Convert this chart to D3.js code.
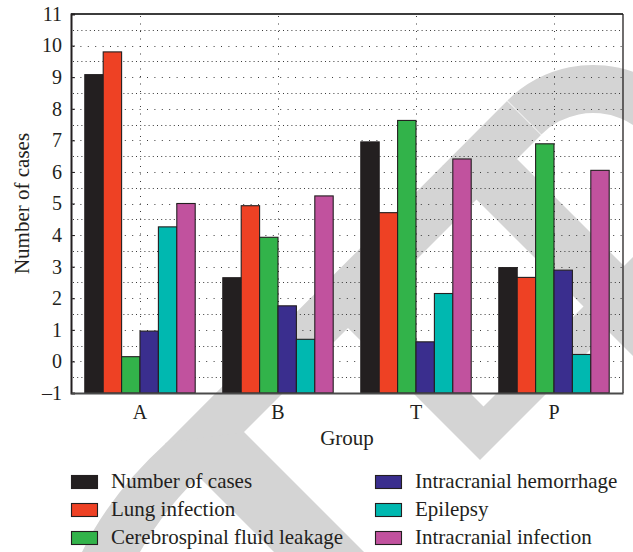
<!DOCTYPE html>
<html>
<head>
<meta charset="utf-8">
<script src="https://cdn.jsdelivr.net/npm/d3@7"></script>
<style>
  html, body { margin: 0; padding: 0; background: #ffffff; }
  svg { display: block; }
</style>
</head>
<body>
<svg id="chart" width="633" height="552"></svg>
<script>
// Groups on the x axis
const groups = ["A", "B", "T", "P"];

// Series (one bar per group for each)
const seriesNames = [
  "Number of cases",
  "Lung infection",
  "Cerebrospinal fluid leakage",
  "Intracranial hemorrhage",
  "Epilepsy",
  "Intracranial infection"
];
const seriesColors = ["#231f20", "#ee4124", "#32b34a", "#3a2e8e", "#00b8b0", "#c1529e"];

// Values per series, in group order A, B, T, P
const numberOfCases        = [9.08, 2.65, 6.95, 2.97];
const lungInfection        = [9.80, 4.93, 4.71, 2.66];
const csfLeakage           = [0.15, 3.93, 7.63, 6.89];
const intracranialHemorr   = [0.96, 1.76, 0.62, 2.89];
const epilepsy             = [4.26, 0.70, 2.15, 0.22];
const intracranialInfect   = [5.00, 5.24, 6.41, 6.05];
const seriesValues = [numberOfCases, lungInfection, csfLeakage, intracranialHemorr, epilepsy, intracranialInfect];

// Y axis ticks
const yTicks = [-1, 0, 1, 2, 3, 4, 5, 6, 7, 8, 9, 10, 11];
const yMin = -1, yMax = 11;

const FONT = "'Liberation Serif', 'Tinos', 'Times', serif";

const svg = d3.select("#chart");
const plot = { left: 71, right: 623, top: 14, bottom: 393 };

const x0 = d3.scaleBand().domain(groups).range([plot.left, plot.right]).padding(0);
const x1 = d3.scaleBand().domain(seriesNames)
  .range([x0.bandwidth() * 0.1, x0.bandwidth() * 0.9]).padding(0);
const y = d3.scaleLinear().domain([yMin, yMax]).range([plot.bottom, plot.top]);

// Light grey background watermark
const wm = svg.append("g").attr("fill", "#d4d4d4");
const ringC = [593, 186];
wm.append("path")
  .attr("transform", `translate(${ringC[0]},${ringC[1]})`)
  .attr("d", d3.arc().innerRadius(73).outerRadius(121).startAngle(-Math.PI / 4).endAngle(Math.PI / 2)());
// long rising stroke, curving at its foot
wm.append("path")
  .attr("d", "M82,552 Q110,494 166,443 L507,101 L541,135 L214,462 Q166,505 140,552 Z");
const bands = [
  [[165, 443], [244, 432], [364, 552], [274, 552]],
  [[314, 294], [376.5, 299.5], [483.5, 406.5], [633, 257], [633, 307], [480, 460]],
  [[442.5, 165.5], [517, 159], [633, 275], [633, 356]]
];
wm.selectAll("polygon.band").data(bands).join("polygon")
  .attr("class", "band")
  .attr("points", d => d.map(p => p.join(",")).join(" "));

// Dotted grid
const grid = svg.append("g").attr("stroke", "#3a3a3a").attr("stroke-width", 1).attr("fill", "none");
const halfSteps = d3.range(yMin + 0.5, yMax, 0.5);
grid.selectAll("line.h").data(halfSteps).join("line")
  .attr("class", "h")
  .attr("x1", plot.left + 2).attr("x2", plot.right)
  .attr("y1", d => Math.round(y(d)) + 0.5).attr("y2", d => Math.round(y(d)) + 0.5)
  .attr("stroke-dasharray", d => Number.isInteger(d) ? "1,6.4" : "1,3.2");
grid.selectAll("line.v").data(groups).join("line")
  .attr("class", "v")
  .attr("x1", d => Math.round(x0(d) + x0.bandwidth() / 2) + 0.5)
  .attr("x2", d => Math.round(x0(d) + x0.bandwidth() / 2) + 0.5)
  .attr("y1", plot.top + 2).attr("y2", plot.bottom)
  .attr("stroke-dasharray", "1,6.5");

// Bars (drawn up from the axis floor at -1)
const barG = svg.append("g");
const groupG = barG.selectAll("g").data(groups).join("g")
  .attr("transform", d => `translate(${x0(d)},0)`);
groupG.selectAll("rect")
  .data((g, gi) => seriesNames.map((s, si) => ({ s, si, v: seriesValues[si][gi] })))
  .join("rect")
  .attr("x", d => x1(d.s))
  .attr("width", x1.bandwidth())
  .attr("y", d => y(d.v))
  .attr("height", d => y(yMin) - y(d.v))
  .attr("fill", d => seriesColors[d.si])
  .attr("stroke", "#231f20")
  .attr("stroke-width", 1.1);

// Frame
const frame = svg.append("g").attr("fill", "none");
frame.append("line").attr("x1", plot.left).attr("x2", plot.right).attr("y1", plot.top).attr("y2", plot.top)
  .attr("stroke", "#3c3c3c").attr("stroke-width", 2);
frame.append("line").attr("x1", plot.right).attr("x2", plot.right).attr("y1", plot.top).attr("y2", plot.bottom)
  .attr("stroke", "#231f20").attr("stroke-width", 1.3);

// Y axis
const yAxis = d3.axisLeft(y).tickValues(yTicks).tickSize(-4).tickPadding(9)
  .tickFormat(d => d < 0 ? "\u2013" + Math.abs(d) : d);
const yG = svg.append("g").attr("transform", `translate(${plot.left},0)`).call(yAxis);
yG.select(".domain").attr("stroke", "#231f20").attr("stroke-width", 2);
yG.selectAll(".tick line").attr("stroke", "#231f20");
yG.selectAll(".tick text").style("font-size", "20px");

// X axis
const xAxis = d3.axisBottom(x0).tickSize(0).tickPadding(12);
const xG = svg.append("g").attr("transform", `translate(0,${plot.bottom})`).call(xAxis);
xG.select(".domain").attr("stroke", "#4a4a4a").attr("stroke-width", 2);
xG.selectAll(".tick text").style("font-size", "20px");

// Axis titles
svg.append("text").attr("x", (plot.left + plot.right) / 2).attr("y", 445)
  .attr("text-anchor", "middle").style("font-size", "21px").text("Group");
svg.append("text").attr("transform", `translate(29,${(plot.top + plot.bottom) / 2}) rotate(-90)`)
  .attr("text-anchor", "middle").style("font-size", "21px").text("Number of cases");

// Legend: two columns of three
const legend = svg.append("g");
const legendCols = [71, 375];
const legendRowY = [475, 503, 531];
const items = legend.selectAll("g").data(seriesNames).join("g")
  .attr("transform", (d, i) => `translate(${legendCols[Math.floor(i / 3)]},${legendRowY[i % 3]})`);
items.append("rect").attr("x", 0.5).attr("y", 0.5).attr("width", 26).attr("height", 13)
  .attr("fill", (d, i) => seriesColors[i]).attr("stroke", "#231f20").attr("stroke-width", 1.1);
items.append("text").attr("x", 40).attr("y", 12.5).style("font-size", "21px").text(d => d);

// Serif face and ink colour for every label
svg.selectAll("text").style("font-family", FONT).attr("fill", "#231f20");
</script>
</body>
</html>
